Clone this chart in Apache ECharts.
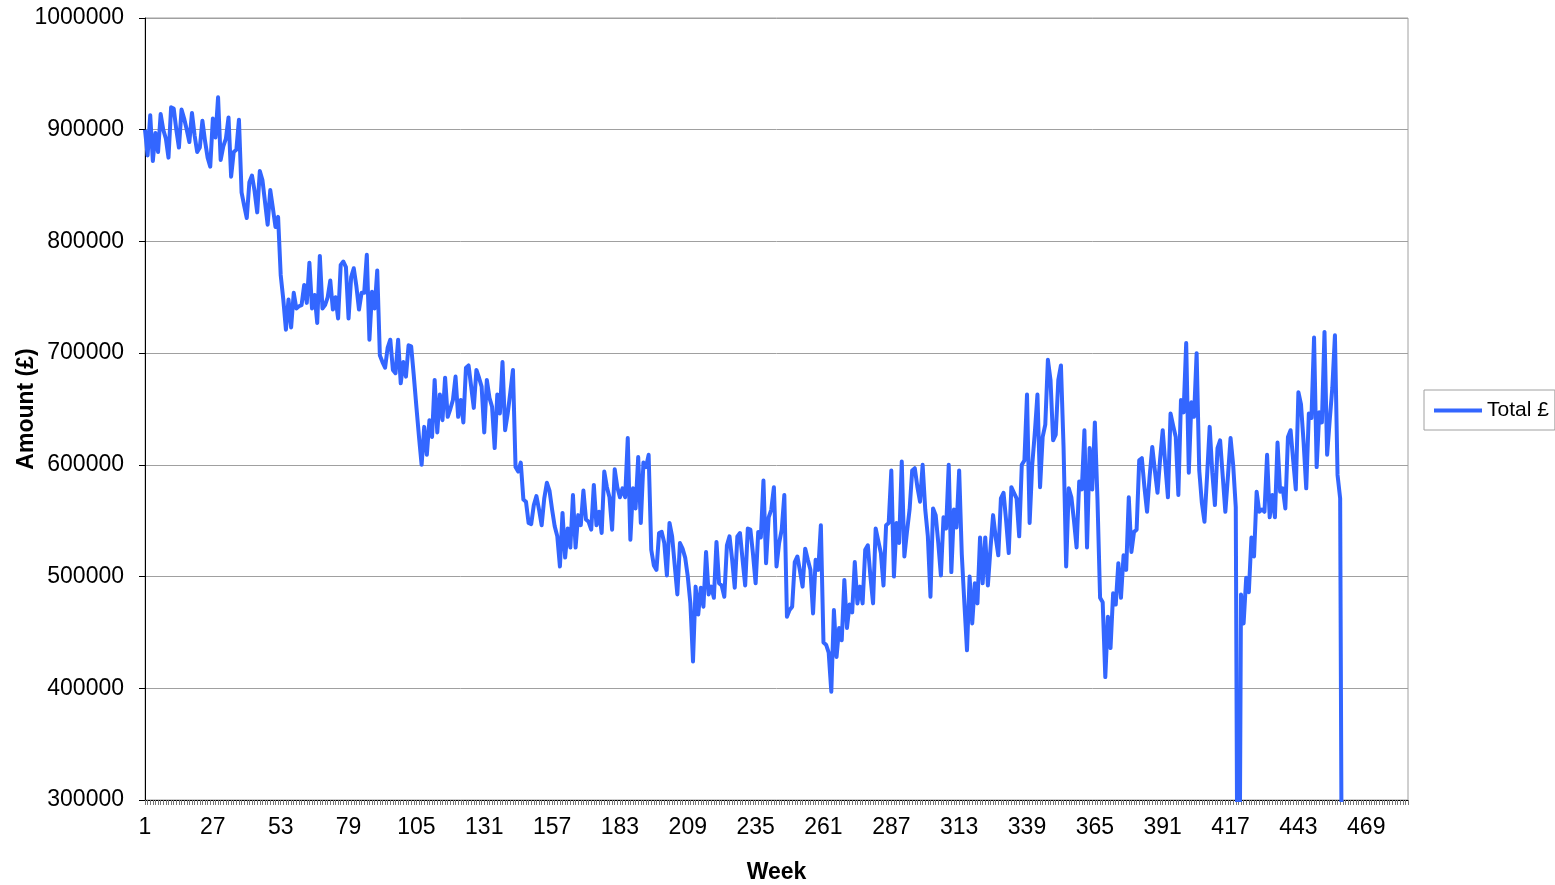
<!DOCTYPE html>
<html>
<head>
<meta charset="utf-8">
<title>Total £ by week</title>
<script src="https://cdn.jsdelivr.net/npm/echarts@6/dist/echarts.min.js"></script>
<style>
  html, body { margin: 0; padding: 0; background: #fff; }
  #chart { width: 1555px; height: 885px; }
</style>
</head>
<body>
<div id="chart"></div>
<script>
// weekly totals (0 = missing week, drawn below the axis)
const totals = [
  900000, 877000, 913000, 872000, 897000, 880000, 914000, 900000, 892000, 875000, 920000, 919000, 900000,
  884000, 918000, 910000, 900000, 889000, 915000, 895000, 880000, 884000, 908000, 890000, 875000, 867000,
  910000, 893000, 929000, 873000, 885000, 892000, 911000, 858000, 880000, 882000, 909000, 844000, 832000,
  821000, 853000, 859000, 845000, 826000, 863000, 855000, 835000, 815000, 846000, 830000, 813000, 822000,
  770000, 748000, 721000, 748000, 723000, 754000, 740000, 742000, 743000, 761000, 745000, 781000, 740000,
  752000, 727000, 787000, 740000, 743000, 750000, 765000, 739000, 750000, 731000, 779000, 782000, 777000,
  731000, 768000, 776000, 760000, 739000, 754000, 754000, 788000, 712000, 755000, 740000, 774000, 698000,
  692000, 687000, 705000, 712000, 685000, 682000, 712000, 673000, 692000, 679000, 707000, 706000, 680000,
  652000, 625000, 600000, 634000, 609000, 640000, 625000, 676000, 629000, 663000, 640000, 678000, 643000,
  650000, 658000, 679000, 643000, 658000, 638000, 687000, 689000, 670000, 651000, 685000, 678000, 670000,
  629000, 676000, 660000, 652000, 615000, 663000, 646000, 692000, 631000, 646000, 665000, 685000, 598000,
  594000, 602000, 569000, 567000, 548000, 547000, 564000, 572000, 560000, 546000, 570000, 584000, 577000,
  560000, 545000, 536000, 509000, 557000, 517000, 543000, 526000, 573000, 526000, 555000, 546000, 577000,
  551000, 549000, 542000, 582000, 546000, 558000, 539000, 594000, 580000, 571000, 542000, 596000, 580000,
  571000, 579000, 571000, 624000, 533000, 579000, 561000, 607000, 548000, 602000, 598000, 609000, 524000,
  510000, 506000, 539000, 540000, 530000, 501000, 548000, 536000, 510000, 484000, 530000, 525000, 517000,
  500000, 476000, 424000, 491000, 466000, 490000, 473000, 522000, 484000, 491000, 481000, 531000, 494000,
  492000, 482000, 528000, 536000, 515000, 490000, 536000, 539000, 515000, 492000, 543000, 542000, 520000,
  494000, 540000, 535000, 586000, 512000, 553000, 560000, 580000, 509000, 530000, 542000, 573000, 464000,
  470000, 473000, 513000, 518000, 505000, 491000, 525000, 515000, 506000, 467000, 515000, 506000, 546000,
  441000, 439000, 432000, 397000, 470000, 428000, 454000, 443000, 497000, 454000, 475000, 468000, 513000,
  476000, 491000, 476000, 524000, 528000, 500000, 476000, 543000, 532000, 521000, 492000, 546000, 548000,
  595000, 500000, 548000, 530000, 603000, 518000, 540000, 560000, 595000, 597000, 580000, 567000, 600000,
  560000, 536000, 482000, 561000, 555000, 530000, 501000, 553000, 543000, 600000, 504000, 560000, 544000,
  595000, 520000, 476000, 434000, 500000, 458000, 494000, 476000, 535000, 494000, 535000, 492000, 525000,
  555000, 535000, 519000, 570000, 575000, 550000, 521000, 580000, 575000, 570000, 536000, 600000, 604000,
  663000, 548000, 600000, 629000, 663000, 580000, 625000, 636000, 694000, 676000, 622000, 627000, 676000,
  689000, 616000, 509000, 579000, 571000, 550000, 526000, 585000, 578000, 631000, 526000, 615000, 578000,
  638000, 569000, 481000, 477000, 410000, 464000, 436000, 485000, 475000, 512000, 481000, 519000, 506000,
  571000, 522000, 540000, 542000, 604000, 606000, 580000, 558000, 590000, 616000, 595000, 575000, 605000,
  631000, 600000, 571000, 646000, 635000, 625000, 573000, 658000, 647000, 709000, 593000, 656000, 643000,
  700000, 595000, 566000, 549000, 590000, 634000, 593000, 564000, 615000, 622000, 590000, 558000, 590000,
  624000, 600000, 562000, 0, 484000, 458000, 499000, 486000, 535000, 518000, 576000, 558000, 560000,
  558000, 609000, 553000, 573000, 553000, 620000, 576000, 579000, 561000, 625000, 631000, 604000, 578000,
  665000, 654000, 620000, 579000, 646000, 642000, 714000, 598000, 647000, 638000, 719000, 609000, 640000,
  669000, 716000, 591000, 570000, 0
];

// axis runs past the data, weeks 1..485
const weekCount = 485;
const weeks = Array.from({ length: weekCount }, (_, i) => String(i + 1));

const yMin = 300000;
const yMax = 1000000;
const yStep = 100000;

const chart = echarts.init(document.getElementById('chart'));
const font = "'Liberation Sans', Arial, sans-serif";

chart.setOption({
  animation: false,
  textStyle: { fontFamily: font },
  grid: {
    left: 145,
    right: 147,
    top: 18,
    bottom: 85,
    containLabel: false,
    outerBoundsMode: 'none',
    show: true,
    borderColor: '#a0a0a0',
    borderWidth: 1
  },
  legend: {
    left: 1424,
    top: 390,
    orient: 'vertical',
    padding: [10, 6, 9, 10],
    itemWidth: 48,
    itemHeight: 20,
    borderColor: '#a0a0a0',
    borderWidth: 1,
    textStyle: { fontSize: 21, color: '#000', fontFamily: font },
    data: [{ name: 'Total £', icon: 'path://M0,8 L48,8 L48,12 L0,12 Z' }]
  },
  xAxis: {
    type: 'category',
    data: weeks,
    boundaryGap: false,
    name: 'Week',
    nameLocation: 'middle',
    nameGap: 61,
    nameMoveOverlap: false,
    nameTextStyle: { fontSize: 23, fontWeight: 'bold', color: '#000' },
    axisLine: { show: true, lineStyle: { color: '#000', width: 1 } },
    axisTick: { show: true, interval: 0, length: 5, lineStyle: { color: '#777' } },
    axisLabel: { interval: 25, margin: 16, fontSize: 23, color: '#000' },
    splitLine: { show: false }
  },
  yAxis: {
    type: 'value',
    min: yMin,
    max: yMax,
    interval: yStep,
    name: 'Amount (£)',
    nameLocation: 'middle',
    nameRotate: 90,
    nameGap: 107,
    nameMoveOverlap: false,
    nameTextStyle: { fontSize: 23, fontWeight: 'bold', color: '#000' },
    axisLine: { show: true, lineStyle: { color: '#000', width: 1 } },
    axisTick: { show: true, length: 6, lineStyle: { color: '#000' } },
    axisLabel: { margin: 21, fontSize: 23, color: '#000', formatter: v => String(v) },
    splitLine: { show: true, lineStyle: { color: '#a0a0a0', width: 1 } }
  },
  series: [
    {
      name: 'Total £',
      type: 'line',
      data: totals,
      symbol: 'none',
      showSymbol: false,
      clip: true,
      lineStyle: { color: '#3366ff', width: 4, join: 'round' },
      itemStyle: { color: '#3366ff' }
    }
  ]
});
</script>
</body>
</html>
